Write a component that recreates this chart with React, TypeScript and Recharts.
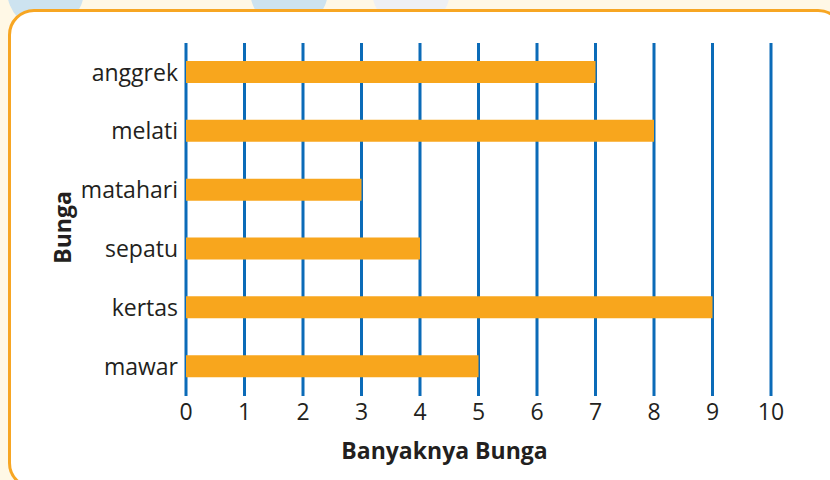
import { BarChart, Bar, XAxis, YAxis, CartesianGrid } from "recharts";

const FLOWERS = ["anggrek", "melati", "matahari", "sepatu", "kertas", "mawar"];
const COUNTS = [7, 8, 3, 4, 9, 5];
const X_TICKS = [0, 1, 2, 3, 4, 5, 6, 7, 8, 9, 10];

const data = FLOWERS.map((name, i) => ({ name, count: COUNTS[i] }));

const FONT = "'Open Sans', 'Noto Sans', sans-serif";
const TEXT = "#231f20";
const FS = 23;

function YLabel({ viewBox }: any) {
  const x = viewBox.x + 22;
  const y = viewBox.y + viewBox.height / 2 + 8;
  return (
    <text
      x={x}
      y={y}
      transform={`rotate(-90, ${x}, ${y})`}
      textAnchor="middle"
      dominantBaseline="central"
      fontFamily={FONT}
      fontWeight={700}
      fontSize={FS}
      fill={TEXT}
    >
      Bunga
    </text>
  );
}

function XLabel({ viewBox }: any) {
  return (
    <text
      x={viewBox.x + viewBox.width / 2 - 34}
      y={viewBox.y + 54}
      textAnchor="middle"
      dominantBaseline="central"
      fontFamily={FONT}
      fontWeight={700}
      fontSize={FS}
      fill={TEXT}
    >
      Banyaknya Bunga
    </text>
  );
}

export default function App() {
  return (
    <div
      style={{
        position: "absolute",
        left: 0,
        top: 0,
        width: 830,
        height: 480,
        overflow: "hidden",
        background: "#fff8e6",
        fontFamily: FONT,
      }}
    >
      <div style={{ position: "absolute", left: 7, top: -50, width: 77, height: 80, borderRadius: "50%", background: "#cde3f0" }} />
      <div style={{ position: "absolute", left: 250, top: -50, width: 78, height: 80, borderRadius: "50%", background: "#cde3f0" }} />
      <div style={{ position: "absolute", left: 372, top: -50, width: 78, height: 80, borderRadius: "50%", background: "#eef0f4" }} />
      <div
        style={{
          position: "absolute",
          left: 8,
          top: 9,
          width: 836,
          height: 480,
          boxSizing: "border-box",
          border: "3px solid #f7a623",
          borderRadius: 26,
          background: "#ffffff",
        }}
      />
      <div style={{ position: "absolute", left: 0, top: 0 }}>
        <BarChart
          width={830}
          height={480}
          data={data}
          layout="vertical"
          margin={{ top: 43, right: 59, bottom: 54, left: 40 }}
        >
          <CartesianGrid
            vertical={true}
            horizontal={false}
            stroke="#0b6bb8"
            strokeWidth={3}
          />
          <XAxis
            type="number"
            domain={[0, 10]}
            ticks={X_TICKS}
            height={30}
            axisLine={false}
            tickLine={false}
            tick={{ fontSize: FS, fill: TEXT, fontFamily: FONT }}
            label={<XLabel />}
          />
          <YAxis
            type="category"
            dataKey="name"
            width={146}
            axisLine={false}
            tickLine={false}
            tick={{ fontSize: FS, fill: TEXT, fontFamily: FONT }}
            label={<YLabel />}
          />
          <Bar
            dataKey="count"
            fill="#f8a61d"
            barSize={22}
            isAnimationActive={false}
          />
        </BarChart>
      </div>
    </div>
  );
}
